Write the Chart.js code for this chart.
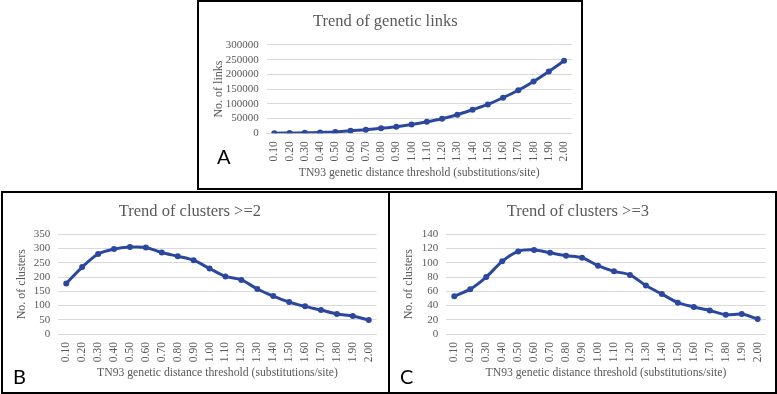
<!DOCTYPE html>
<html>
<head>
<meta charset="utf-8">
<script src="https://cdn.jsdelivr.net/npm/chart.js@4"></script>
<style>
  html, body { margin: 0; padding: 0; background: #fff; }
  body { width: 777px; height: 394px; position: relative; overflow: hidden; }
  .box { position: absolute; border: 2px solid #000; box-sizing: border-box; background: #fff; }
  .box canvas { position: absolute; }
  .tag { position: absolute; font-family: Lato, "Liberation Sans", sans-serif; font-size: 20px; color: #000; line-height: 1; }
</style>
</head>
<body>
<div class="box" id="boxA" style="left:197px; top:0px; width:386px; height:190px;">
  <canvas id="chartA"></canvas>
  <span class="tag" style="left:18px; top:144px;">A</span>
</div>
<div class="box" id="boxB" style="left:1px; top:191px; width:389px; height:203px;">
  <canvas id="chartB"></canvas>
  <span class="tag" style="left:10px; top:173px;">B</span>
</div>
<div class="box" id="boxC" style="left:388px; top:191px; width:389px; height:203px;">
  <canvas id="chartC"></canvas>
  <span class="tag" style="left:10px; top:173px;">C</span>
</div>
<script>
// thresholds on the x axis
const thresholds = ['0.10','0.20','0.30','0.40','0.50','0.60','0.70','0.80','0.90','1.00',
                    '1.10','1.20','1.30','1.40','1.50','1.60','1.70','1.80','1.90','2.00'];

// A: number of links
const links = [500, 1000, 1500, 3000, 4500, 9000, 12000, 17000, 22500, 30000,
               39000, 49500, 63000, 80000, 98000, 121000, 146000, 176000, 210000, 246000];
// B: clusters of size >= 2
const clusters2 = [177, 235, 281, 298, 305, 304, 286, 273, 259, 230,
                   202, 190, 158, 133, 112, 97, 84, 70, 63, 49];
// C: clusters of size >= 3
const clusters3 = [53, 63, 80, 102, 116, 118, 114, 110, 107, 96,
                   88, 83, 68, 56, 44, 38, 33, 27, 28, 21];

const lineColor = 'rgb(44,72,158)';
const textColor = '#595959';
const serif = '"Liberation Serif", "Times New Roman", serif';
const xTitle = 'TN93 genetic distance threshold (substitutions/site)';

function makeChart(id, w, h, cfg) {
  const canvas = document.getElementById(id);
  canvas.style.left = '0px';
  canvas.style.top = '0px';
  canvas.width = w;
  canvas.height = h;
  canvas.style.width = w + 'px';
  canvas.style.height = h + 'px';

  new Chart(canvas.getContext('2d'), {
    type: 'line',
    data: {
      labels: thresholds,
      datasets: [{
        data: cfg.values,
        borderColor: lineColor,
        backgroundColor: lineColor,
        borderWidth: 3,
        pointRadius: 3,
        pointBorderWidth: 0,
        pointBackgroundColor: lineColor,
        tension: 0.3,
        fill: false
      }]
    },
    options: {
      responsive: false,
      animation: false,
      devicePixelRatio: 1,
      layout: { padding: { left: 0, right: cfg.padRight, top: 0, bottom: 0 } },
      plugins: {
        legend: { display: false },
        tooltip: { enabled: false },
        title: {
          display: true,
          text: cfg.title,
          color: textColor,
          font: { family: serif, size: 16.5, weight: 'normal', lineHeight: 1.2 },
          padding: { top: cfg.titleTop, bottom: cfg.titleBottom }
        }
      },
      scales: {
        x: {
          offset: true,
          grid: { display: false },
          border: { display: true, color: '#d9d9d9' },
          ticks: {
            color: textColor,
            font: { family: serif, size: 11.5 },
            minRotation: 90,
            maxRotation: 90,
            autoSkip: false,
            padding: 0
          },
          title: {
            display: true,
            text: xTitle,
            color: textColor,
            font: { family: serif, size: 11.7, lineHeight: 1.2 },
            padding: { top: 0, bottom: cfg.xTitleBottom }
          },
          afterFit: function (scale) { scale.height = cfg.xHeight; }
        },
        y: {
          min: 0,
          max: cfg.max,
          grid: { color: '#d9d9d9', lineWidth: 1, drawTicks: false },
          border: { display: false },
          ticks: {
            stepSize: cfg.step,
            autoSkip: false,
            color: textColor,
            font: { family: serif, size: 11 },
            padding: 8,
            callback: function (v) { return String(v); }
          },
          title: {
            display: true,
            text: cfg.yTitle,
            color: textColor,
            font: { family: serif, size: 12, lineHeight: 1.2 },
            padding: { top: cfg.yTitleTop, bottom: 0 }
          },
          afterFit: function (scale) { scale.width = cfg.yWidth; }
        }
      }
    }
  });
}

makeChart('chartA', 382, 186, {
  values: links, title: 'Trend of genetic links', yTitle: 'No. of links',
  max: 300000, step: 50000,
  yWidth: 67.7, padRight: 9.3, titleTop: 10, titleBottom: 13.1,
  xHeight: 54.7, xTitleBottom: 8.1, yTitleTop: 12.5
});

makeChart('chartB', 385, 199, {
  values: clusters2, title: 'Trend of clusters >=2', yTitle: 'No. of clusters',
  max: 350, step: 50,
  yWidth: 55.3, padRight: 11.3, titleTop: 9.1, titleBottom: 12.4,
  xHeight: 58, xTitleBottom: 12.1, yTitleTop: 12.1
});

makeChart('chartC', 385, 199, {
  values: clusters3, title: 'Trend of clusters >=3', yTitle: 'No. of clusters',
  max: 140, step: 20,
  yWidth: 56.3, padRight: 9.3, titleTop: 9.1, titleBottom: 12.4,
  xHeight: 58, xTitleBottom: 12.1, yTitleTop: 12.1
});
</script>
</body>
</html>
